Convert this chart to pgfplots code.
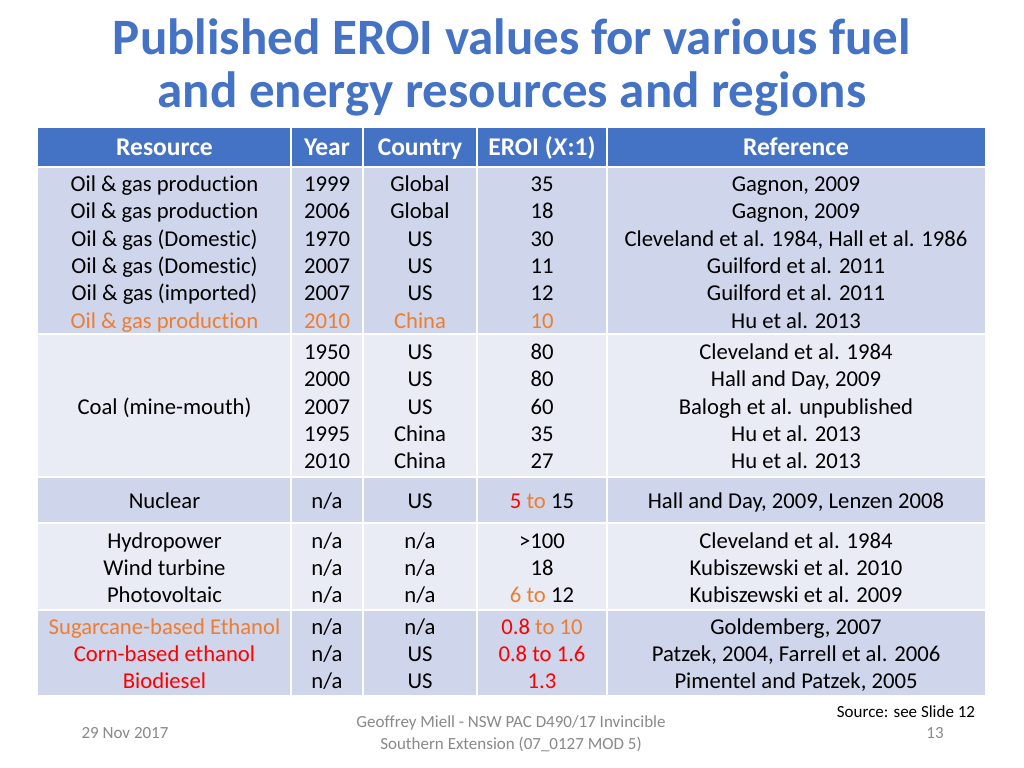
\documentclass[border=0pt]{standalone}
\usepackage{pgfplots}
\pgfplotsset{compat=1.18}
\usepackage{fontspec}
\setmainfont{Carlito}[Ligatures=NoCommon]
\definecolor{hdrblue}{HTML}{4472C4}
\definecolor{rowdark}{HTML}{CFD5EA}
\definecolor{rowlight}{HTML}{E9EBF5}
\definecolor{accorange}{HTML}{ED7D31}
\definecolor{accred}{HTML}{FF0000}
\definecolor{footgray}{HTML}{898989}

\newcommand\cellfont{\fontsize{16}{19}\selectfont}
\newcommand\hdrfont{\fontsize{18}{21}\bfseries\selectfont}
% one table line: baseline y, resource, year, country, EROI, reference
\newcommand\tabrow[6]{%
  \node[anchor=base] at (axis cs:164.5,#1) {#2};
  \node[anchor=base] at (axis cs:327,#1) {#3};
  \node[anchor=base] at (axis cs:420,#1) {#4};
  \node[anchor=base] at (axis cs:542,#1) {#5};
  \node[anchor=base] at (axis cs:796,#1) {#6};
}
\newcommand\orange[1]{\textcolor{accorange}{#1}}
\newcommand\red[1]{\textcolor{accred}{#1}}

\begin{document}
\begin{tikzpicture}[font=\cellfont, every node/.style={inner sep=0pt}]
\begin{axis}[
    hide axis, scale only axis,
    width=10in, height=7.5in,
    xmin=0, xmax=1024, ymin=0, ymax=768,
    y dir=reverse, clip=false,
]
\fill[white] (axis cs:0,0) rectangle (axis cs:1024,768);

% title
\node[anchor=base, text=hdrblue, font=\fontsize{36}{40}\bfseries\selectfont]
  at (axis cs:512,55) {Published EROI values for various fuel};
\node[anchor=base, text=hdrblue, font=\fontsize{36}{40}\bfseries\selectfont]
  at (axis cs:512,108) {and energy resources and regions};

% cell fills
\fill[hdrblue]  (axis cs:38,128) rectangle (axis cs:985,167);
\fill[rowdark]  (axis cs:38,167) rectangle (axis cs:985,334);
\fill[rowlight] (axis cs:38,334) rectangle (axis cs:985,477);
\fill[rowdark]  (axis cs:38,477) rectangle (axis cs:985,523);
\fill[rowlight] (axis cs:38,523) rectangle (axis cs:985,610);
\fill[rowdark]  (axis cs:38,610) rectangle (axis cs:985,695);
% white rules between groups and columns
\draw[white, line width=2.1pt] (axis cs:38,167) -- (axis cs:985,167);
\draw[white, line width=2.1pt] (axis cs:38,334) -- (axis cs:985,334);
\draw[white, line width=2.1pt] (axis cs:38,477) -- (axis cs:985,477);
\draw[white, line width=2.1pt] (axis cs:38,523) -- (axis cs:985,523);
\draw[white, line width=2.1pt] (axis cs:38,610) -- (axis cs:985,610);
\draw[white, line width=1.6pt] (axis cs:291,128) -- (axis cs:291,695);
\draw[white, line width=1.6pt] (axis cs:363,128) -- (axis cs:363,695);
\draw[white, line width=1.6pt] (axis cs:477,128) -- (axis cs:477,695);
\draw[white, line width=1.6pt] (axis cs:607,128) -- (axis cs:607,695);

% header
\node[anchor=base, text=white, font=\hdrfont] at (axis cs:164.5,155.5) {Resource};
\node[anchor=base, text=white, font=\hdrfont] at (axis cs:327,155.5) {Year};
\node[anchor=base, text=white, font=\hdrfont] at (axis cs:420,155.5) {Country};
\node[anchor=base, text=white, font=\hdrfont] at (axis cs:542,155.5) {EROI (\textit{X}:1)};
\node[anchor=base, text=white, font=\hdrfont] at (axis cs:796,155.5) {Reference};

% oil and gas
\tabrow{191}{Oil \& gas production}{1999}{Global}{35}{Gagnon, 2009}
\tabrow{218}{Oil \& gas production}{2006}{Global}{18}{Gagnon, 2009}
\tabrow{246}{Oil \& gas (Domestic)}{1970}{US}{30}{Cleveland et al. 1984, Hall et al. 1986}
\tabrow{273}{Oil \& gas (Domestic)}{2007}{US}{11}{Guilford et al. 2011}
\tabrow{300}{Oil \& gas (imported)}{2007}{US}{12}{Guilford et al. 2011}
\tabrow{328}{\orange{Oil \& gas production}}{\orange{2010}}{\orange{China}}{\orange{10}}{Hu et al. 2013}

% coal
\tabrow{359}{}{1950}{US}{80}{Cleveland et al. 1984}
\tabrow{386}{}{2000}{US}{80}{Hall and Day, 2009}
\tabrow{414}{Coal (mine-mouth)}{2007}{US}{60}{Balogh et al. unpublished}
\tabrow{441}{}{1995}{China}{35}{Hu et al. 2013}
\tabrow{468}{}{2010}{China}{27}{Hu et al. 2013}

% nuclear
\tabrow{508}{Nuclear}{n/a}{US}{\red{5} \orange{to} 15}{Hall and Day, 2009, Lenzen 2008}

% renewables
\tabrow{548}{Hydropower}{n/a}{n/a}{>100}{Cleveland et al. 1984}
\tabrow{575}{Wind turbine}{n/a}{n/a}{18}{Kubiszewski et al. 2010}
\tabrow{602}{Photovoltaic}{n/a}{n/a}{\orange{6 to} 12}{Kubiszewski et al. 2009}

% biofuels
\tabrow{634}{\orange{Sugarcane-based Ethanol}}{n/a}{n/a}{\red{0.8} \orange{to 10}}{Goldemberg, 2007}
\tabrow{661}{\red{Corn-based ethanol}}{n/a}{US}{\red{0.8 to 1.6}}{Patzek, 2004, Farrell et al. 2006}
\tabrow{688}{\red{Biodiesel}}{n/a}{US}{\red{1.3}}{Pimentel and Patzek, 2005}

% footer
\node[anchor=base, text=footgray, font=\fontsize{12}{14}\selectfont] at (axis cs:125,738) {29 Nov 2017};
\node[anchor=base, text=footgray, font=\fontsize{12}{14}\selectfont] at (axis cs:511,727) {Geoffrey Miell - NSW PAC D490/17 Invincible};
\node[anchor=base, text=footgray, font=\fontsize{12}{14}\selectfont] at (axis cs:511,749) {Southern Extension (07\_0127 MOD 5)};
\node[anchor=base, font=\fontsize{12}{14}\selectfont] at (axis cs:906,717) {Source: see Slide 12};
\node[anchor=base, text=footgray, font=\fontsize{12}{14}\selectfont] at (axis cs:935,738) {13};
\end{axis}
\end{tikzpicture}
\end{document}
